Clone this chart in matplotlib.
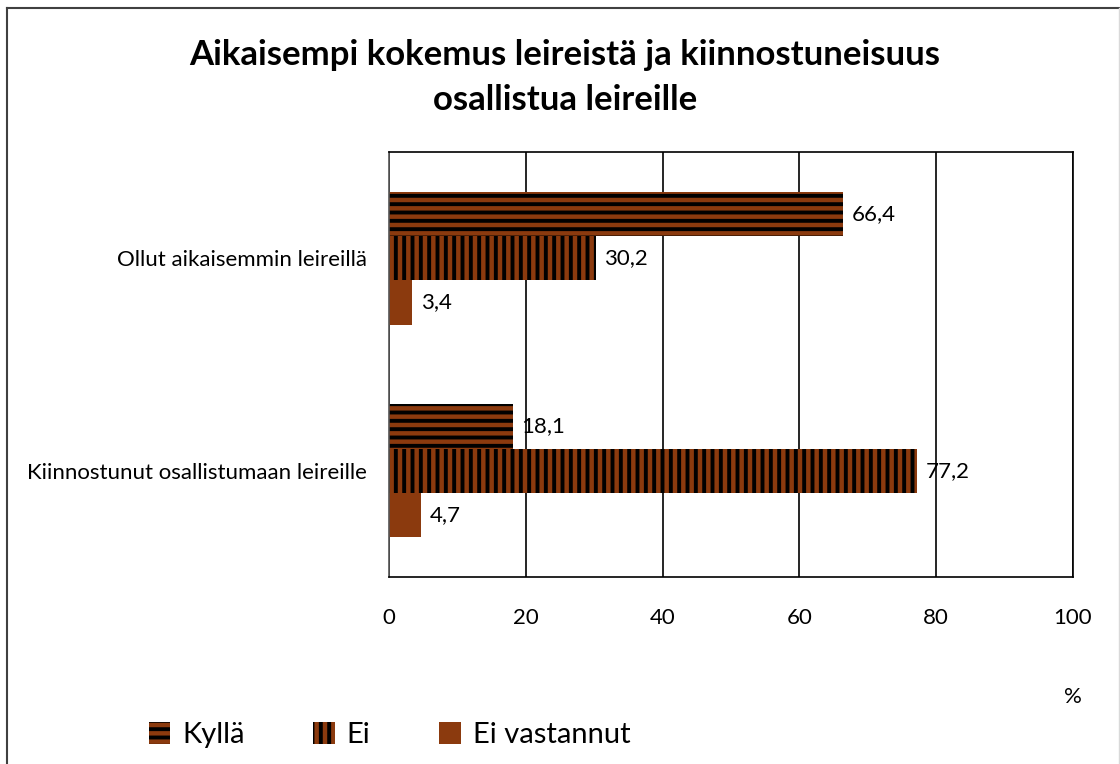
import matplotlib.pyplot as plt
import numpy as np
from matplotlib.lines import Line2D

plt.rcParams['font.family'] = ['Lato', 'DejaVu Sans']
plt.rcParams['hatch.linewidth'] = 2.8

# data
categories = ['Ollut aikaisemmin leireillä', 'Kiinnostunut osallistumaan leireille']
series = ['Kyllä', 'Ei', 'Ei vastannut']
kylla = [66.4, 18.1]
ei = [30.2, 77.2]
ei_vast = [3.4, 4.7]
values = [kylla, ei, ei_vast]
hatches = ['--', '||', '']

brown = '#8B3A0E'

fig = plt.figure(figsize=(11.2, 7.64), dpi=100)
ax = fig.add_axes([389/1120, 1 - 577/764, 684/1120, 425/764])

y = np.arange(len(categories))
h = 0.208
for i, (name, vals, hat) in enumerate(zip(series, values, hatches)):
    pos = y + (i - 1) * h
    ax.barh(pos, vals, height=h, color=brown, hatch=hat, edgecolor='black',
            linewidth=0, label=name)
    for p, v in zip(pos, vals):
        ax.text(v + 1.3, p, f'{v:.1f}'.replace('.', ','), va='center', ha='left',
                fontsize=16)

ax.set_xlim(0, 100)
ax.set_ylim(1.5, -0.5)
ax.set_xticks([0, 20, 40, 60, 80, 100])
ax.set_yticks(y)
ax.set_yticklabels(categories, fontsize=16)
ax.tick_params(axis='x', length=0, pad=22, labelsize=16)
ax.tick_params(axis='y', length=0, pad=16)
ax.grid(axis='x', color='black', linewidth=1.2)
ax.set_axisbelow(True)
for s in ax.spines.values():
    s.set_color('black')
    s.set_linewidth(1.2)
ax.spines['left'].set_color('#555555')

fig.text(1073/1120, 1 - 697/764, '%', ha='center', va='center', fontsize=16)

fig.text(565/1120, 1 - 55/764, 'Aikaisempi kokemus leireistä ja kiinnostuneisuus',
         ha='center', va='center', fontsize=25, fontweight='bold')
fig.text(565/1120, 1 - 100/764, 'osallistua leireille',
         ha='center', va='center', fontsize=25, fontweight='bold')

# legend
handles = [plt.Rectangle((0, 0), 1, 1, facecolor=brown, hatch=hh, edgecolor='black', linewidth=0)
           for hh in hatches]
fig.legend(handles, series, loc='center left', bbox_to_anchor=(134/1120, 1 - 735/764),
           ncol=3, frameon=False, fontsize=21, handlelength=0.75, handleheight=0.75,
           handletextpad=0.4, columnspacing=2.35, borderpad=0)

# outer frame
fig.add_artist(Line2D([7/1120, 7/1120], [0, 1 - 8/764], transform=fig.transFigure,
                      color='#404040', linewidth=1.5))
fig.add_artist(Line2D([7/1120, 1], [1 - 8/764, 1 - 8/764], transform=fig.transFigure,
                      color='#404040', linewidth=1.5))
fig.add_artist(Line2D([1119/1120, 1119/1120], [0, 1 - 8/764], transform=fig.transFigure,
                      color='#d9d9d9', linewidth=1))

fig.savefig('out.png', dpi=100)
